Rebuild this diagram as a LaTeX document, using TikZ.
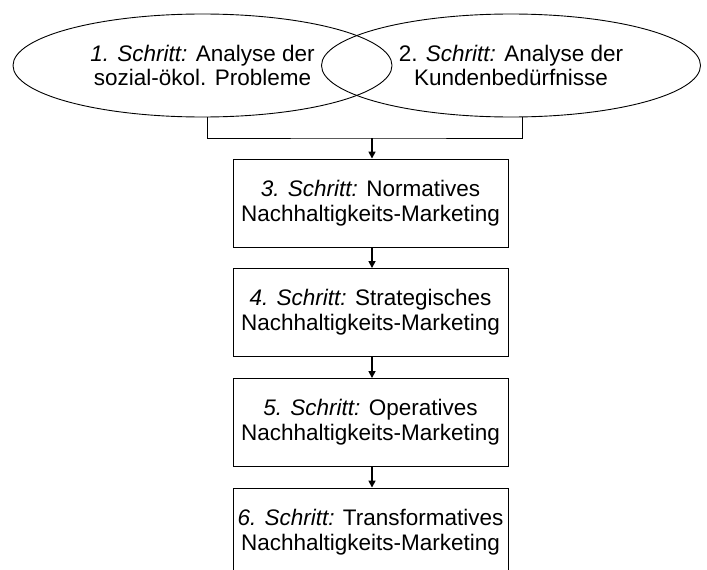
\documentclass[tikz,border=0pt]{standalone}
\usepackage{fontspec}
\setmainfont{Liberation Sans}
\usetikzlibrary{shapes.geometric,arrows.meta}
\newcommand{\stepit}[1]{{\itshape #1}}
\begin{document}
\begin{tikzpicture}[x=1pt,y=-1pt,
  txt/.style={font=\fontsize{22.5}{24.8}\selectfont, align=center},
  oval/.style={ellipse, draw, line width=0.9pt, minimum width=379pt, minimum height=103pt, inner sep=0pt, txt},
  stepbox/.style={rectangle, draw, line width=0.9pt, minimum width=275pt, minimum height=88pt, inner sep=0pt, txt},
  line/.style={line width=0.9pt},
  arr/.style={line width=1.6pt, -{Triangle[length=7pt,width=7pt]}}]
\useasboundingbox (0,0) rectangle (707,570);
\clip (0,0) rectangle (707,570);
\node[oval] (e1) at (202.5,65.5) {\stepit{1. Schritt:} Analyse der\\sozial-ökol. Probleme};
\node[oval] (e2) at (511,65.5) {2. \stepit{Schritt:} Analyse der\\Kundenbedürfnisse};
\node[stepbox] (b3) at (370.5,203) {\stepit{3. Schritt:} Normatives\\Nachhaltigkeits-Marketing};
\node[stepbox] (b4) at (370.5,312.5) {\stepit{4. Schritt:} Strategisches\\Nachhaltigkeits-Marketing};
\node[stepbox] (b5) at (370.5,422.5) {\stepit{5. Schritt:} Operatives\\Nachhaltigkeits-Marketing};
\node[stepbox] (b6) at (370.5,532) {\stepit{6. Schritt:} Transformatives\\Nachhaltigkeits-Marketing};
\coordinate (j) at (372,138);
\draw[line] ([xshift=4.5pt]e1.south) |- (j) -| ([xshift=11pt]e2.south);
\draw[arr] (j) -- (b3.north -| j);
\draw[arr] (b3.south -| j) -- (b4.north -| j);
\draw[arr] (b4.south -| j) -- (b5.north -| j);
\draw[arr] (b5.south -| j) -- (b6.north -| j);
\end{tikzpicture}
\end{document}
